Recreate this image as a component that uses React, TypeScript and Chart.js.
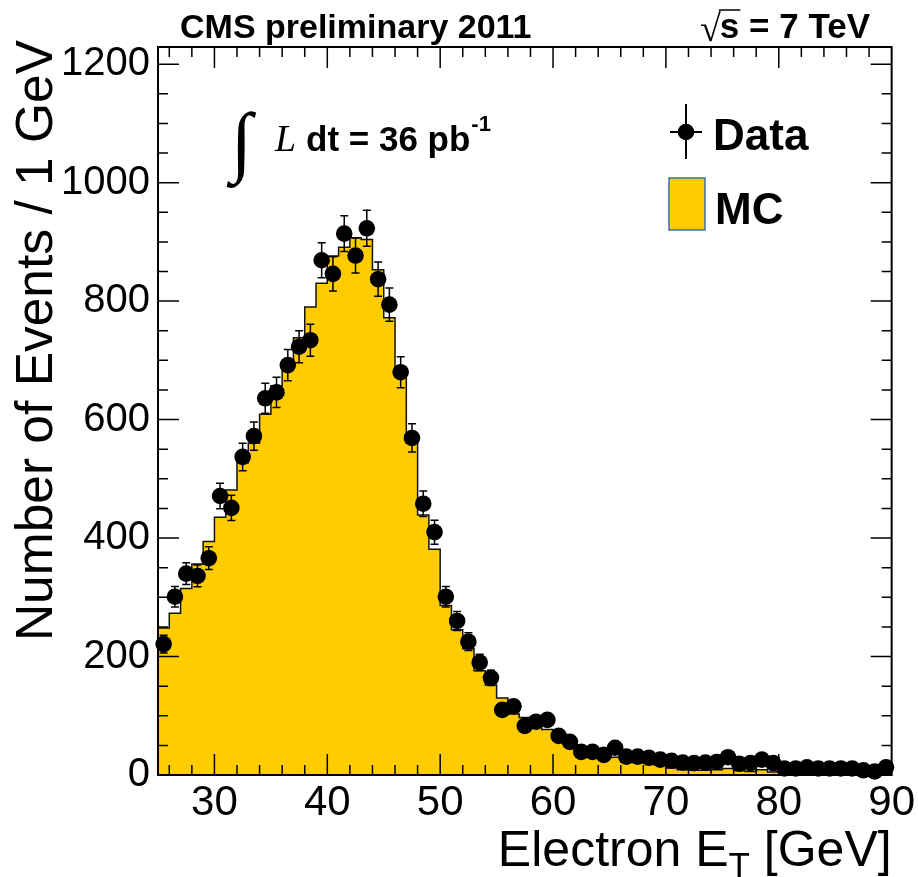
import React, { useEffect, useRef } from 'react';
import { Chart, registerables } from 'chart.js';

Chart.register(...registerables);

// ---- data (1 GeV bins, 25..90 GeV) ----
const BIN_START = 25;
const BIN_WIDTH = 1;
const X_MIN = 25;
const X_MAX = 90;
const Y_MIN = 0;
const Y_MAX = 1229;

const dataCounts = [
  221, 301, 340, 336, 366, 471, 451, 537, 572, 636,
  646, 692, 723, 734, 869, 846, 914, 877, 923, 837,
  794, 680, 569, 458, 410, 301, 260, 225, 190, 164,
  110, 116, 83, 90, 93, 66, 56, 39, 39, 34,
  46, 31, 31, 29, 26, 24, 21, 20, 21, 22,
  30, 19, 20, 26, 20, 11, 11, 13, 11, 11,
  11, 11, 8, 6, 13,
];

const mcCounts = [
  248, 273, 315, 356, 394, 435, 481, 527, 560, 609,
  657, 696, 738, 790, 830, 876, 891, 907, 904, 853,
  772, 672, 560, 439, 381, 286, 245, 213, 176, 152,
  130, 103, 97, 90, 77, 66, 54, 47, 42, 34,
  30, 22, 21, 20, 17, 12, 9, 8, 8, 9,
  11, 7, 6, 9, 5, 4, 4, 3, 3, 3,
  2, 2, 2, 2, 2,
];

const xTickLabels = [30, 40, 50, 60, 70, 80, 90];
const yTickLabels = [0, 200, 400, 600, 800, 1000, 1200];
const X_MINOR_STEP = 2;
const Y_MINOR_STEP = 50;

const MC_COLOR = '#FFCC00';
const MC_LEGEND_BORDER = '#3d6db5';
const SANS = '"Liberation Sans", Arial, Helvetica, sans-serif';
const SERIF = '"Liberation Serif", "Times New Roman", serif';

const DATA_INDEX = 0;
const MARKER_RADIUS = 8.3;

const errorBarPlugin = {
  id: 'errorBars',
  beforeDatasetDraw(chart: any, args: any) {
    if (args.index !== DATA_INDEX) return;
    const { ctx } = chart;
    const xs = chart.scales.x;
    const ys = chart.scales.y;
    ctx.save();
    ctx.strokeStyle = '#000';
    ctx.lineWidth = 1.5;
    dataCounts.forEach((n, i) => {
      const err = Math.sqrt(n);
      const px = xs.getPixelForValue(BIN_START + (i + 0.5) * BIN_WIDTH);
      const top = ys.getPixelForValue(n + err);
      const bot = ys.getPixelForValue(Math.max(0, n - err));
      ctx.beginPath();
      ctx.moveTo(px, top);
      ctx.lineTo(px, bot);
      ctx.moveTo(px - 4, top);
      ctx.lineTo(px + 4, top);
      ctx.moveTo(px - 4, bot);
      ctx.lineTo(px + 4, bot);
      ctx.stroke();
    });
    ctx.restore();
  },
};

const decorPlugin = {
  id: 'decor',
  afterDatasetsDraw(chart: any) {
    const { ctx, chartArea } = chart;
    const { left, right, top, bottom } = chartArea;
    const xs = chart.scales.x;
    const ys = chart.scales.y;
    ctx.save();
    // frame
    ctx.strokeStyle = '#000';
    ctx.lineWidth = 2;
    ctx.strokeRect(left, top, right - left, bottom - top);
    // ticks
    ctx.lineWidth = 1.5;
    ctx.beginPath();
    for (let v = X_MIN + 1; v < X_MAX; v += 1) {
      if ((v % X_MINOR_STEP) !== 0) continue;
      const major = xTickLabels.includes(v);
      const len = major ? 21 : 10;
      const px = xs.getPixelForValue(v);
      ctx.moveTo(px, bottom);
      ctx.lineTo(px, bottom - len);
      ctx.moveTo(px, top);
      ctx.lineTo(px, top + len);
    }
    for (let v = Y_MIN + Y_MINOR_STEP; v < Y_MAX; v += Y_MINOR_STEP) {
      const major = yTickLabels.includes(v);
      const len = major ? 21 : 10;
      const py = ys.getPixelForValue(v);
      ctx.moveTo(left, py);
      ctx.lineTo(left + len, py);
      ctx.moveTo(right, py);
      ctx.lineTo(right - len, py);
    }
    ctx.stroke();

    ctx.fillStyle = '#000';
    ctx.textBaseline = 'alphabetic';

    // x title with subscript
    const xTitleA = 'Electron E';
    const xTitleSub = 'T';
    const xTitleB = ' [GeV]';
    ctx.font = `50px ${SANS}`;
    const wA = ctx.measureText(xTitleA).width;
    const wB = ctx.measureText(xTitleB).width;
    ctx.font = `35px ${SANS}`;
    const wS = ctx.measureText(xTitleSub).width;
    const xEnd = right;
    const base = 866;
    let cx = xEnd - wA - wS - wB;
    ctx.font = `50px ${SANS}`;
    ctx.textAlign = 'left';
    ctx.fillText(xTitleA, cx, base);
    cx += wA;
    ctx.font = `35px ${SANS}`;
    ctx.fillText(xTitleSub, cx, base + 11);
    cx += wS;
    ctx.font = `50px ${SANS}`;
    ctx.fillText(xTitleB, cx, base);

    // y title
    ctx.save();
    ctx.translate(52, 40);
    ctx.rotate(-Math.PI / 2);
    ctx.textAlign = 'right';
    ctx.font = `51.5px ${SANS}`;
    ctx.fillText('Number of Events / 1 GeV', 0, 0);
    ctx.restore();

    // header
    ctx.textAlign = 'left';
    ctx.font = `bold 34px ${SANS}`;
    ctx.fillText('CMS preliminary 2011', 180, 38);
    ctx.textAlign = 'right';
    const energy = 's = 7 TeV';
    ctx.font = `bold 35px ${SANS}`;
    ctx.fillText(energy, 870, 38);
    const wE = ctx.measureText(energy).width;
    const sW = ctx.measureText('s').width;
    ctx.font = `38px ${SERIF}`;
    ctx.fillText('\u221A', 870 - wE + 1, 41);
    ctx.beginPath();
    ctx.lineWidth = 1.5;
    ctx.moveTo(870 - wE - 1, 10);
    ctx.lineTo(870 - wE + sW + 1, 10);
    ctx.stroke();

    // luminosity
    ctx.textAlign = 'left';
    ctx.font = `bold 78px ${SERIF}`;
    ctx.fillText('\u222B', 231, 167);
    ctx.font = `italic 38px ${SERIF}`;
    ctx.fillText('L', 275, 151);
    ctx.font = `bold 35px ${SANS}`;
    const lumi = 'dt = 36 pb';
    ctx.fillText(lumi, 306, 151);
    const wl = ctx.measureText(lumi).width;
    ctx.font = `bold 22px ${SANS}`;
    ctx.fillText('-1', 306 + wl + 1, 131);

    // legend: Data
    ctx.lineWidth = 2;
    ctx.beginPath();
    ctx.moveTo(686, 104);
    ctx.lineTo(686, 159);
    ctx.moveTo(670, 132);
    ctx.lineTo(702, 132);
    ctx.stroke();
    ctx.beginPath();
    ctx.arc(686, 132, MARKER_RADIUS, 0, Math.PI * 2);
    ctx.fill();
    ctx.font = `bold 44px ${SANS}`;
    ctx.fillText('Data', 713, 150);
    // legend: MC
    ctx.fillStyle = MC_COLOR;
    ctx.fillRect(669, 178, 36, 52);
    ctx.strokeStyle = MC_LEGEND_BORDER;
    ctx.lineWidth = 1.5;
    ctx.strokeRect(669, 178, 36, 52);
    ctx.fillStyle = '#000';
    ctx.fillText('MC', 715, 224);

    ctx.restore();
  },
};

export default function App() {
  const canvasRef = useRef<HTMLCanvasElement | null>(null);

  useEffect(() => {
    const canvas = canvasRef.current;
    if (!canvas) return;

    const dataPoints = dataCounts.map((v, i) => ({ x: BIN_START + (i + 0.5) * BIN_WIDTH, y: v }));
    const mcPoints = mcCounts.map((v, i) => ({ x: BIN_START + i * BIN_WIDTH, y: v }));
    mcPoints.push({ x: BIN_START + mcCounts.length * BIN_WIDTH, y: mcCounts[mcCounts.length - 1] });

    const chart = new Chart(canvas, {
      type: 'line',
      data: {
        datasets: [
          {
            label: 'Data',
            data: dataPoints,
            showLine: false,
            pointRadius: MARKER_RADIUS,
            pointHoverRadius: MARKER_RADIUS,
            pointBackgroundColor: '#000',
            pointBorderWidth: 0,
            borderColor: '#000',
            clip: false,
          } as any,
          {
            label: 'MC',
            data: mcPoints,
            stepped: true,
            fill: 'origin',
            backgroundColor: MC_COLOR,
            borderColor: '#111',
            borderWidth: 1.5,
            pointRadius: 0,
            tension: 0,
          } as any,
        ],
      },
      options: {
        responsive: false,
        animation: false,
        devicePixelRatio: 1,
        events: [],
        layout: { padding: { left: 8, top: 47, right: 25, bottom: 0 } },
        plugins: {
          legend: { display: false },
          tooltip: { enabled: false },
        },
        scales: {
          x: {
            type: 'linear',
            min: X_MIN,
            max: X_MAX,
            grid: { display: false, drawTicks: false },
            border: { display: false },
            ticks: {
              font: { family: SANS, size: 42 }, color: '#000', padding: 3, maxRotation: 0, autoSkip: false,
              callback: (v: any) => String(v),
            },
            afterBuildTicks: (s: any) => {
              s.ticks = xTickLabels.map((v) => ({ value: v }));
            },
            afterFit: (s: any) => {
              s.height = 102;
            },
          },
          y: {
            type: 'linear',
            min: Y_MIN,
            max: Y_MAX,
            grid: { display: false, drawTicks: false },
            border: { display: false },
            ticks: {
              font: { family: SANS, size: 40 }, color: '#000', padding: 8,
              callback: (v: any) => String(v),
            },
            afterBuildTicks: (s: any) => {
              s.ticks = yTickLabels.map((v) => ({ value: v }));
            },
            afterFit: (s: any) => {
              s.width = 150;
            },
          },
        },
      } as any,
      plugins: [errorBarPlugin, decorPlugin],
    });

    return () => chart.destroy();
  }, []);

  return (
    <div style={{ position: 'fixed', left: 0, top: 0, width: 918, height: 877, background: '#fff' }}>
      <canvas ref={canvasRef} width={918} height={877} style={{ display: 'block' }} />
    </div>
  );
}
